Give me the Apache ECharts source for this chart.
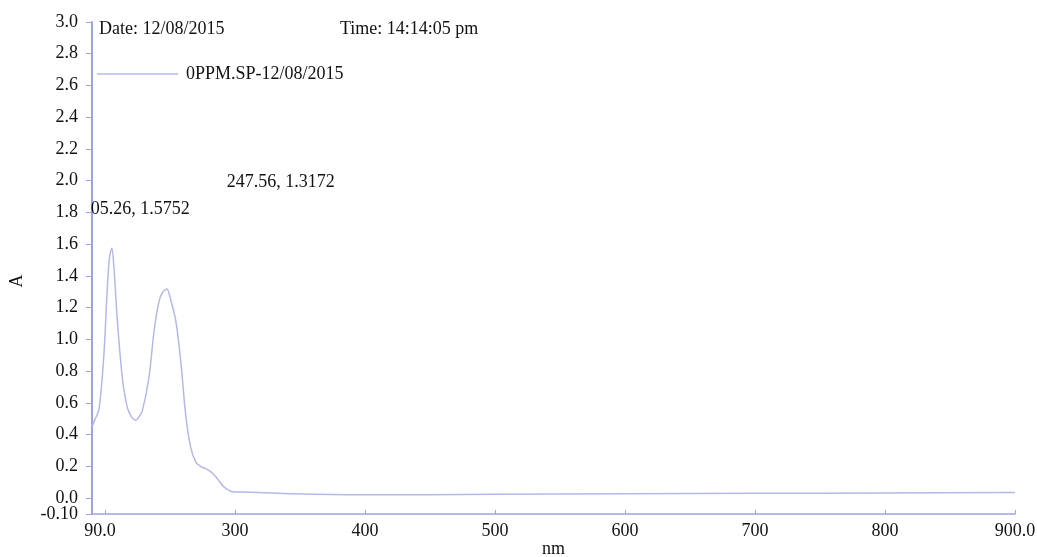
<!DOCTYPE html>
<html>
<head>
<meta charset="utf-8">
<title>0PPM.SP-12/08/2015</title>
<script src="https://cdn.jsdelivr.net/npm/echarts@6/dist/echarts.min.js"></script>
<style>
  html, body { margin: 0; padding: 0; background: #ffffff; }
  #chart { width: 1037px; height: 557px; }
</style>
</head>
<body>
<div id="chart"></div>
<script>
// UV-Vis absorbance spectrum, 190-900 nm
const wavelengths = [190, 192, 195.4, 199.2, 201.8, 203.5, 205.26, 206.9, 209.5, 213.3,
  217.2, 220.5, 223.6, 226, 228.7, 233.8, 237.7, 241.5, 244.5, 247.56,
  250.5, 254.4, 258.2, 262, 265.9, 269.8, 273.5, 277.4, 281.5, 285.2,
  288.5, 291.5, 295, 298, 305, 318, 344, 395, 450, 500, 600, 700, 800, 900];
const absorbance = [0.45, 0.49, 0.56, 0.91, 1.33, 1.52, 1.5752, 1.45, 1.12, 0.76,
  0.57, 0.51, 0.49, 0.51, 0.55, 0.76, 1.05, 1.24, 1.30, 1.3172,
  1.25, 1.12, 0.87, 0.53, 0.32, 0.228, 0.20, 0.186, 0.165, 0.134,
  0.10, 0.071, 0.05, 0.04, 0.038, 0.035, 0.028, 0.022, 0.022, 0.025, 0.028, 0.03, 0.033, 0.035];

// Picked peaks and their annotations
const peakPoints = [[205.26, 1.5752], [247.56, 1.3172]];
const peakLabels = ['05.26, 1.5752', '247.56, 1.3172'];

// Axis ticks and labels
const xTickValues = [190, 200, 300, 400, 500, 600, 700, 800, 900];
const xLabelValues = [190, 300, 400, 500, 600, 700, 800, 900];
const xLabelTexts = ['90.0', '300', '400', '500', '600', '700', '800', '900.0'];
const yTickValues = [0, 0.2, 0.4, 0.6, 0.8, 1.0, 1.2, 1.4, 1.6, 1.8, 2.0, 2.2, 2.4, 2.6, 2.8, 3.0];
const yTickTexts = ['0.0', '0.2', '0.4', '0.6', '0.8', '1.0', '1.2', '1.4', '1.6', '1.8',
  '2.0', '2.2', '2.4', '2.6', '2.8', '3.0'];
const yMinValue = -0.1;
const yMaxValue = 3.0;
const yMinText = '-0.10';

const seriesName = '0PPM.SP-12/08/2015';
const dateText = 'Date: 12/08/2015';
const timeText = 'Time: 14:14:05 pm';

const FONT = '"Liberation Serif", "DejaVu Serif", serif';
const LINE_COLOR = '#b3b8e8';
const AXIS_COLOR = '#9ea5da';

const chart = echarts.init(document.getElementById('chart'), null, { renderer: 'canvas' });

function labelFor(values, texts, v) {
  for (let i = 0; i < values.length; i++) {
    if (Math.abs(values[i] - v) < 1e-6) return texts[i];
  }
  return '';
}

const peakOffsets = [[-21, -39], [60, -107]];

const labelText = { fontFamily: FONT, fontSize: 18, color: '#111111' };

chart.setOption({
  backgroundColor: '#ffffff',
  animation: false,
  textStyle: { fontFamily: FONT, color: '#111111' },
  grid: { left: 92, right: 22, top: 22, bottom: 43, containLabel: false, outerBoundsMode: 'none' },
  legend: {
    show: true,
    left: 92,
    top: 60,
    icon: 'rect',
    itemWidth: 81,
    itemHeight: 1.5,
    textStyle: Object.assign({}, labelText, { padding: [0, 0, 0, 3] }),
    data: [seriesName]
  },
  graphic: [
    { type: 'text', left: 99, top: 20, style: { text: dateText, font: '18px ' + FONT, fill: '#111111' } },
    { type: 'text', left: 340, top: 20, style: { text: timeText, font: '18px ' + FONT, fill: '#111111' } }
  ],
  xAxis: {
    type: 'value',
    min: 190,
    max: 900,
    name: 'nm',
    nameLocation: 'middle',
    nameGap: 26,
    nameMoveOverlap: false,
    nameTextStyle: labelText,
    axisLine: { show: true, onZero: false, lineStyle: { color: AXIS_COLOR, width: 1.5 } },
    axisTick: { show: true, inside: true, length: 4, customValues: xTickValues, lineStyle: { color: AXIS_COLOR } },
    axisLabel: Object.assign({}, labelText, {
      show: true,
      customValues: xLabelValues,
      hideOverlap: false,
      margin: 8,
      formatter: function (v) {
        const t = labelFor(xLabelValues, xLabelTexts, v);
        return v === xLabelValues[0] ? '{first|' + t + '}' : t;
      },
      rich: {
        first: Object.assign({}, labelText, { padding: [0, 0, 0, 16] })
      }
    }),
    splitLine: { show: false }
  },
  yAxis: [{
    type: 'value',
    min: yMinValue,
    max: yMaxValue,
    name: 'A',
    nameLocation: 'middle',
    nameRotate: 90,
    nameGap: 66,
    nameMoveOverlap: false,
    nameTextStyle: Object.assign({}, labelText, { padding: [0, 26, 0, 0] }),
    axisLine: { show: true, onZero: false, lineStyle: { color: AXIS_COLOR, width: 2 } },
    axisTick: { show: true, inside: false, length: 6, customValues: [yMinValue].concat(yTickValues), lineStyle: { color: AXIS_COLOR } },
    axisLabel: Object.assign({}, labelText, {
      show: true,
      customValues: yTickValues,
      hideOverlap: false,
      margin: 14,
      formatter: function (v) { return labelFor(yTickValues, yTickTexts, v); }
    }),
    splitLine: { show: false }
  }, {
    // carries only the bottom "-0.10" label so it is not dropped next to "0.0"
    type: 'value',
    position: 'left',
    min: yMinValue,
    max: yMaxValue,
    axisLine: { show: false },
    axisTick: { show: false },
    splitLine: { show: false },
    axisLabel: Object.assign({}, labelText, {
      show: true,
      customValues: [yMinValue],
      showMinLabel: true,
      margin: 14,
      formatter: function () { return yMinText; }
    })
  }],
  series: [{
    name: seriesName,
    type: 'line',
    data: wavelengths.map((w, i) => [w, absorbance[i]]),
    smooth: 0.3,
    showSymbol: false,
    symbol: 'none',
    color: LINE_COLOR,
    lineStyle: { color: LINE_COLOR, width: 1.5 },
    markPoint: {
      symbol: 'circle',
      symbolSize: 0,
      silent: true,
      data: peakPoints.map((p, i) => ({
        coord: p,
        label: Object.assign({}, labelText, {
          show: true,
          position: peakOffsets[i],
          align: 'left',
          verticalAlign: 'middle',
          formatter: peakLabels[i]
        })
      }))
    }
  }]
});
</script>
</body>
</html>
